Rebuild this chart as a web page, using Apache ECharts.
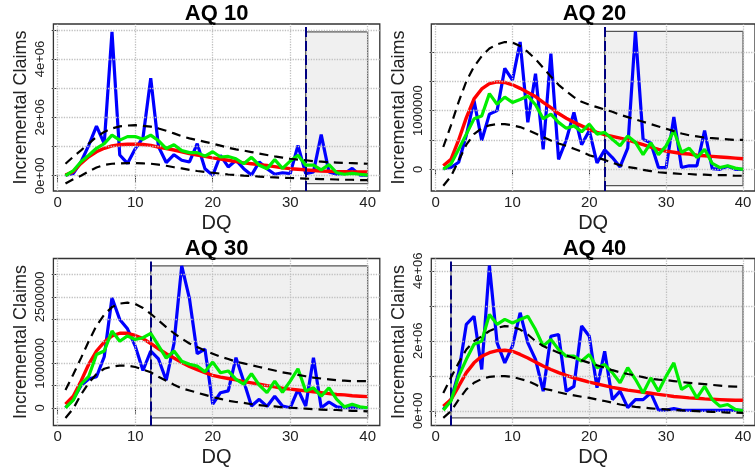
<!DOCTYPE html>
<html><head><meta charset="utf-8">
<script src="https://cdn.jsdelivr.net/npm/echarts@6/dist/echarts.min.js"></script>
<style>html,body{margin:0;padding:0;background:#fff}#c{width:755px;height:472px}</style>
</head><body><div id="c"></div>
<script>
// Development quarters (x)
const dq = [1,2,3,4,5,6,7,8,9,10,11,12,13,14,15,16,17,18,19,20,21,22,23,24,25,26,27,28,29,30,31,32,33,34,35,36,37,38,39,40];
const xTicks = [0,10,20,30,40];
const scale = 1e6; // values below are in millions

// AQ 10
const aq10Actual = [0.02,0.07,0.47,1.04,1.70,1.10,4.93,0.71,0.42,0.92,1.30,3.34,1.00,0.45,0.72,0.53,0.47,1.10,0.24,0.01,0.70,0.30,0.53,0.24,0.02,0.47,0.24,0.05,0.10,0.07,1.04,0.07,0.13,1.41,0.13,0.05,0.07,0.25,0.02,0.02];
const aq10Fit    = [0.02,0.14,0.42,0.65,0.82,0.94,1.02,1.06,1.08,1.08,1.07,1.04,0.98,0.93,0.88,0.82,0.76,0.71,0.66,0.61,0.57,0.53,0.48,0.44,0.41,0.38,0.35,0.31,0.27,0.24,0.22,0.20,0.18,0.16,0.15,0.14,0.14,0.13,0.13,0.13];
const aq10Sim    = [0.00,0.17,0.48,0.70,0.94,1.10,1.39,1.22,1.34,1.34,1.25,1.39,1.20,0.93,1.06,0.86,0.79,0.79,0.67,0.82,0.64,0.66,0.58,0.41,0.63,0.36,0.24,0.55,0.25,0.50,0.70,0.36,0.36,0.20,0.38,0.10,0.05,0.08,0.05,0.02];
const aq10Upper  = [0.41,0.65,0.87,1.10,1.33,1.50,1.62,1.69,1.72,1.73,1.71,1.68,1.62,1.54,1.45,1.35,1.28,1.22,1.16,1.10,1.03,0.96,0.90,0.86,0.81,0.76,0.71,0.66,0.62,0.58,0.55,0.53,0.50,0.48,0.46,0.45,0.44,0.43,0.42,0.41];
const aq10Lower  = [-0.27,-0.12,0.00,0.15,0.28,0.37,0.41,0.42,0.43,0.43,0.42,0.41,0.38,0.34,0.29,0.25,0.20,0.16,0.13,0.10,0.07,0.04,0.02,0.00,-0.01,-0.03,-0.05,-0.06,-0.07,-0.08,-0.09,-0.10,-0.11,-0.12,-0.12,-0.13,-0.14,-0.14,-0.15,-0.15];

// AQ 20
const aq20Actual = [0.01,0.03,0.12,0.58,1.17,0.49,0.94,1.00,1.72,1.52,2.17,0.80,1.63,0.34,1.97,0.17,0.50,0.97,0.42,0.66,0.11,0.33,0.20,0.04,0.36,2.35,0.51,0.45,0.03,0.03,0.89,0.03,0.06,0.06,0.66,0.01,0.00,0.05,0.00,0.00];
const aq20Fit    = [0.06,0.17,0.50,0.88,1.20,1.37,1.46,1.49,1.48,1.44,1.38,1.31,1.24,1.14,1.05,0.95,0.87,0.80,0.74,0.68,0.63,0.59,0.56,0.53,0.50,0.46,0.42,0.38,0.34,0.31,0.29,0.27,0.26,0.24,0.23,0.22,0.21,0.20,0.19,0.18];
const aq20Sim    = [0.00,0.09,0.34,0.60,0.86,0.91,1.29,1.11,1.23,1.14,1.19,1.25,1.10,0.86,0.94,0.80,0.70,0.74,0.64,0.77,0.60,0.63,0.51,0.40,0.57,0.46,0.25,0.45,0.25,0.40,0.66,0.29,0.36,0.20,0.34,0.10,0.03,0.06,0.02,0.00];
const aq20Upper  = [0.38,0.75,1.15,1.50,1.75,1.93,2.06,2.13,2.17,2.16,2.10,2.00,1.88,1.73,1.58,1.44,1.33,1.23,1.15,1.10,1.06,1.02,0.98,0.93,0.89,0.85,0.81,0.77,0.73,0.69,0.65,0.61,0.58,0.56,0.54,0.53,0.52,0.51,0.50,0.50];
const aq20Lower  = [-0.28,-0.12,0.15,0.42,0.60,0.70,0.75,0.77,0.77,0.75,0.72,0.67,0.61,0.55,0.49,0.44,0.40,0.35,0.30,0.24,0.20,0.16,0.11,0.07,0.04,0.02,-0.01,-0.03,-0.05,-0.06,-0.07,-0.08,-0.08,-0.09,-0.09,-0.10,-0.10,-0.10,-0.11,-0.11];

// AQ 30
const aq30Actual = [0.00,0.19,0.50,0.65,0.70,1.15,2.48,1.99,1.78,1.39,0.84,1.28,1.10,0.62,1.45,3.20,2.46,1.22,1.32,0.08,0.34,0.38,1.13,0.60,0.04,0.19,0.03,0.26,0.04,0.00,0.41,0.04,1.13,0.00,0.13,0.02,0.00,0.00,0.00,0.00];
const aq30Fit    = [0.08,0.26,0.60,0.98,1.28,1.48,1.62,1.68,1.68,1.63,1.56,1.45,1.33,1.22,1.12,1.02,0.93,0.86,0.79,0.73,0.69,0.66,0.63,0.59,0.56,0.53,0.50,0.47,0.44,0.42,0.40,0.38,0.36,0.34,0.32,0.30,0.29,0.27,0.26,0.25];
const aq30Sim    = [0.00,0.17,0.53,0.71,1.20,1.28,1.73,1.50,1.62,1.54,1.58,1.68,1.40,1.12,1.28,1.05,0.98,0.94,0.81,1.03,0.79,0.83,0.64,0.53,0.77,0.51,0.34,0.60,0.35,0.60,0.88,0.38,0.45,0.26,0.45,0.19,0.02,0.08,0.02,0.00];
const aq30Upper  = [0.40,0.75,1.12,1.50,1.85,2.10,2.27,2.35,2.37,2.34,2.25,2.12,1.97,1.82,1.68,1.56,1.45,1.37,1.29,1.22,1.15,1.10,1.04,1.00,0.96,0.92,0.88,0.84,0.80,0.77,0.74,0.71,0.68,0.66,0.64,0.62,0.61,0.60,0.60,0.60];
const aq30Lower  = [-0.23,-0.02,0.30,0.56,0.76,0.88,0.93,0.95,0.95,0.92,0.86,0.80,0.70,0.61,0.52,0.44,0.39,0.34,0.29,0.24,0.20,0.16,0.13,0.11,0.08,0.06,0.04,0.03,0.01,0.00,-0.01,-0.02,-0.03,-0.04,-0.05,-0.05,-0.06,-0.07,-0.07,-0.08];

// AQ 40
const aq40Actual = [0.04,0.32,1.09,2.47,2.70,1.18,4.15,1.94,1.37,1.85,2.80,1.94,1.47,0.56,2.13,2.18,0.56,0.70,2.42,2.13,0.66,1.70,0.32,0.56,0.09,0.32,0.32,0.51,0.02,0.02,0.06,0.02,0.01,0.01,0.01,0.01,0.01,0.01,0.01,0.01];
const aq40Fit    = [0.13,0.32,0.70,1.09,1.37,1.56,1.66,1.72,1.73,1.70,1.61,1.51,1.39,1.28,1.18,1.09,1.01,0.94,0.88,0.82,0.77,0.72,0.67,0.63,0.59,0.56,0.53,0.50,0.47,0.44,0.41,0.39,0.37,0.36,0.34,0.33,0.32,0.31,0.30,0.30];
const aq40Sim    = [0.02,0.28,0.99,1.47,1.90,1.99,2.75,2.47,2.61,2.51,2.61,2.70,2.32,1.85,2.04,1.75,1.56,1.56,1.42,1.61,1.23,1.32,1.09,0.80,1.23,0.90,0.51,0.94,0.56,0.99,1.37,0.61,0.75,0.37,0.70,0.32,0.13,0.18,0.04,0.00];
const aq40Upper  = [0.51,0.95,1.37,1.75,1.99,2.13,2.28,2.37,2.42,2.40,2.32,2.18,1.99,1.85,1.75,1.66,1.58,1.51,1.44,1.37,1.30,1.23,1.16,1.10,1.05,1.01,0.96,0.91,0.89,0.88,0.85,0.82,0.80,0.78,0.76,0.74,0.72,0.70,0.69,0.69];
const aq40Lower  = [-0.20,-0.01,0.32,0.61,0.80,0.91,0.97,0.99,0.99,0.97,0.91,0.85,0.75,0.63,0.59,0.53,0.48,0.44,0.40,0.37,0.32,0.28,0.23,0.18,0.14,0.11,0.09,0.07,0.05,0.04,0.02,0.01,0.00,-0.01,-0.02,-0.03,-0.04,-0.05,-0.05,-0.06];

// Axis ticks and labels (millions)
const aq10YTicks = [0,1,2,3,4,5];        const aq10YLabelVals = [0,2,4];   const aq10YLabels = ['0e+00','2e+06','4e+06'];
const aq20YTicks = [0,0.5,1,1.5,2];      const aq20YLabelVals = [0,1];     const aq20YLabels = ['0','1000000'];
const aq30YTicks = [0,0.5,1,1.5,2,2.5,3];const aq30YLabelVals = [0,1,2.5]; const aq30YLabels = ['0','1000000','2500000'];
const aq40YTicks = [0,1,2,3,4];          const aq40YLabelVals = [0,2,4];   const aq40YLabels = ['0e+00','2e+06','4e+06'];

const titles = ['AQ 10','AQ 20','AQ 30','AQ 40'];
const cutoffs = [32, 22, 12, 2];

const panels = [
  {title:titles[0], cut:cutoffs[0], a:aq10Actual, f:aq10Fit, s:aq10Sim, u:aq10Upper, l:aq10Lower, yt:aq10YTicks, ylv:aq10YLabelVals, yl:aq10YLabels, ymin:-0.525, ymax:5.2,  left:53.4,  top:24},
  {title:titles[1], cut:cutoffs[1], a:aq20Actual, f:aq20Fit, s:aq20Sim, u:aq20Upper, l:aq20Lower, yt:aq20YTicks, ylv:aq20YLabelVals, yl:aq20YLabels, ymin:-0.37,  ymax:2.477,left:431.3, top:24},
  {title:titles[2], cut:cutoffs[2], a:aq30Actual, f:aq30Fit, s:aq30Sim, u:aq30Upper, l:aq30Lower, yt:aq30YTicks, ylv:aq30YLabelVals, yl:aq30YLabels, ymin:-0.40,  ymax:3.366,left:53.4,  top:258.5},
  {title:titles[3], cut:cutoffs[3], a:aq40Actual, f:aq40Fit, s:aq40Sim, u:aq40Upper, l:aq40Lower, yt:aq40YTicks, ylv:aq40YLabelVals, yl:aq40YLabels, ymin:-0.42,  ymax:4.35, left:431.3, top:258.5}
];

const W = 326.4, H = 167, XMIN = -0.56, XMAX = 41.56;
const FONT = 'Liberation Sans';
const pairs = arr => dq.map((d,i)=>[d, arr[i]*scale]);

const grids=[], xAxes=[], yAxes=[], series=[], graphics=[];
panels.forEach((p,i)=>{
  grids.push({left:p.left, top:p.top, width:W, height:H, show:true, borderColor:'#333', borderWidth:1.3, backgroundColor:'transparent', containLabel:false});
  xAxes.push({gridIndex:i, type:'value', min:XMIN, max:XMAX,
    axisLine:{show:false}, splitLine:{show:false},
    axisTick:{show:true, length:6, customValues:xTicks, lineStyle:{color:'#333', width:1}},
    axisLabel:{customValues:xTicks, fontSize:15, color:'#222', margin:4, fontFamily:FONT},
    name:'DQ', nameLocation:'middle', nameGap:22, nameTextStyle:{fontSize:20, color:'#222', fontFamily:FONT}});
  yAxes.push({gridIndex:i, type:'value', min:p.ymin*scale, max:p.ymax*scale,
    axisLine:{show:false}, splitLine:{show:false},
    axisTick:{show:true, length:6, customValues:p.yt.map(v=>v*scale), lineStyle:{color:'#333', width:1}},
    axisLabel:{customValues:p.ylv.map(v=>v*scale), rotate:90, fontSize:13, color:'#222', margin:6, fontFamily:FONT,
      formatter:(v)=>{ let k=0,b=1e99; p.ylv.forEach((t,j)=>{const d=Math.abs(t*scale-v); if(d<b){b=d;k=j;}}); return p.yl[k]; }},
    name:'Incremental Claims', nameLocation:'middle', nameGap:23, nameTextStyle:{fontSize:18, color:'#222', fontFamily:FONT}});

  const all = [].concat(p.a,p.f,p.s,p.u,p.l);
  const lo = Math.min(...all)*scale, hi = Math.max(...all)*scale;
  const base = {xAxisIndex:i, yAxisIndex:i, type:'line', symbol:'none', silent:true};
  // shaded region
  series.push(Object.assign({}, base, {data:[], z:1, markArea:{silent:true,
    itemStyle:{color:'#f0f0f0', borderColor:'#555', borderWidth:1.2},
    data:[[{coord:[p.cut, lo]},{coord:[dq[dq.length-1], hi]}]]}}));
  // grid lines
  series.push(Object.assign({}, base, {data:[], z:2, markLine:{silent:true, symbol:'none', label:{show:false},
    lineStyle:{type:'dotted', color:'#c0c0c0', width:1.3},
    data:[...xTicks.map(x=>({xAxis:x})), ...p.yt.map(y=>({yAxis:y*scale}))]}}));
  series.push(Object.assign({}, base, {name:'Actual', data:pairs(p.a), z:3, lineStyle:{color:'#0000ff', width:3.2}}));
  series.push(Object.assign({}, base, {name:'Fit', data:pairs(p.f), z:4, lineStyle:{color:'#ff0000', width:3.4}}));
  series.push(Object.assign({}, base, {name:'Sim', data:pairs(p.s), z:5, lineStyle:{color:'#00ee00', width:3.2}}));
  series.push(Object.assign({}, base, {name:'Upper', data:pairs(p.u), z:6, lineStyle:{color:'#000', width:2.2, type:[9,6]}}));
  series.push(Object.assign({}, base, {name:'Lower', data:pairs(p.l), z:6, lineStyle:{color:'#000', width:2.2, type:[9,6]}}));
  series.push(Object.assign({}, base, {data:[], z:7, markLine:{silent:true, symbol:'none', label:{show:false},
    lineStyle:{type:[10,4], color:'#000080', width:2}, data:[{xAxis:p.cut}]}}));

  graphics.push({type:'text', x:p.left + W/2, y:p.top - 10, silent:true,
    style:{text:p.title, fontSize:22, fontWeight:'bold', fontFamily:FONT, fill:'#000', align:'center', verticalAlign:'middle'}});
});

const chart = echarts.init(document.getElementById('c'), null, {renderer:'canvas'});
chart.setOption({animation:false, backgroundColor:'#fff', grid:grids, xAxis:xAxes, yAxis:yAxes, series:series, graphic:graphics});
</script></body></html>
